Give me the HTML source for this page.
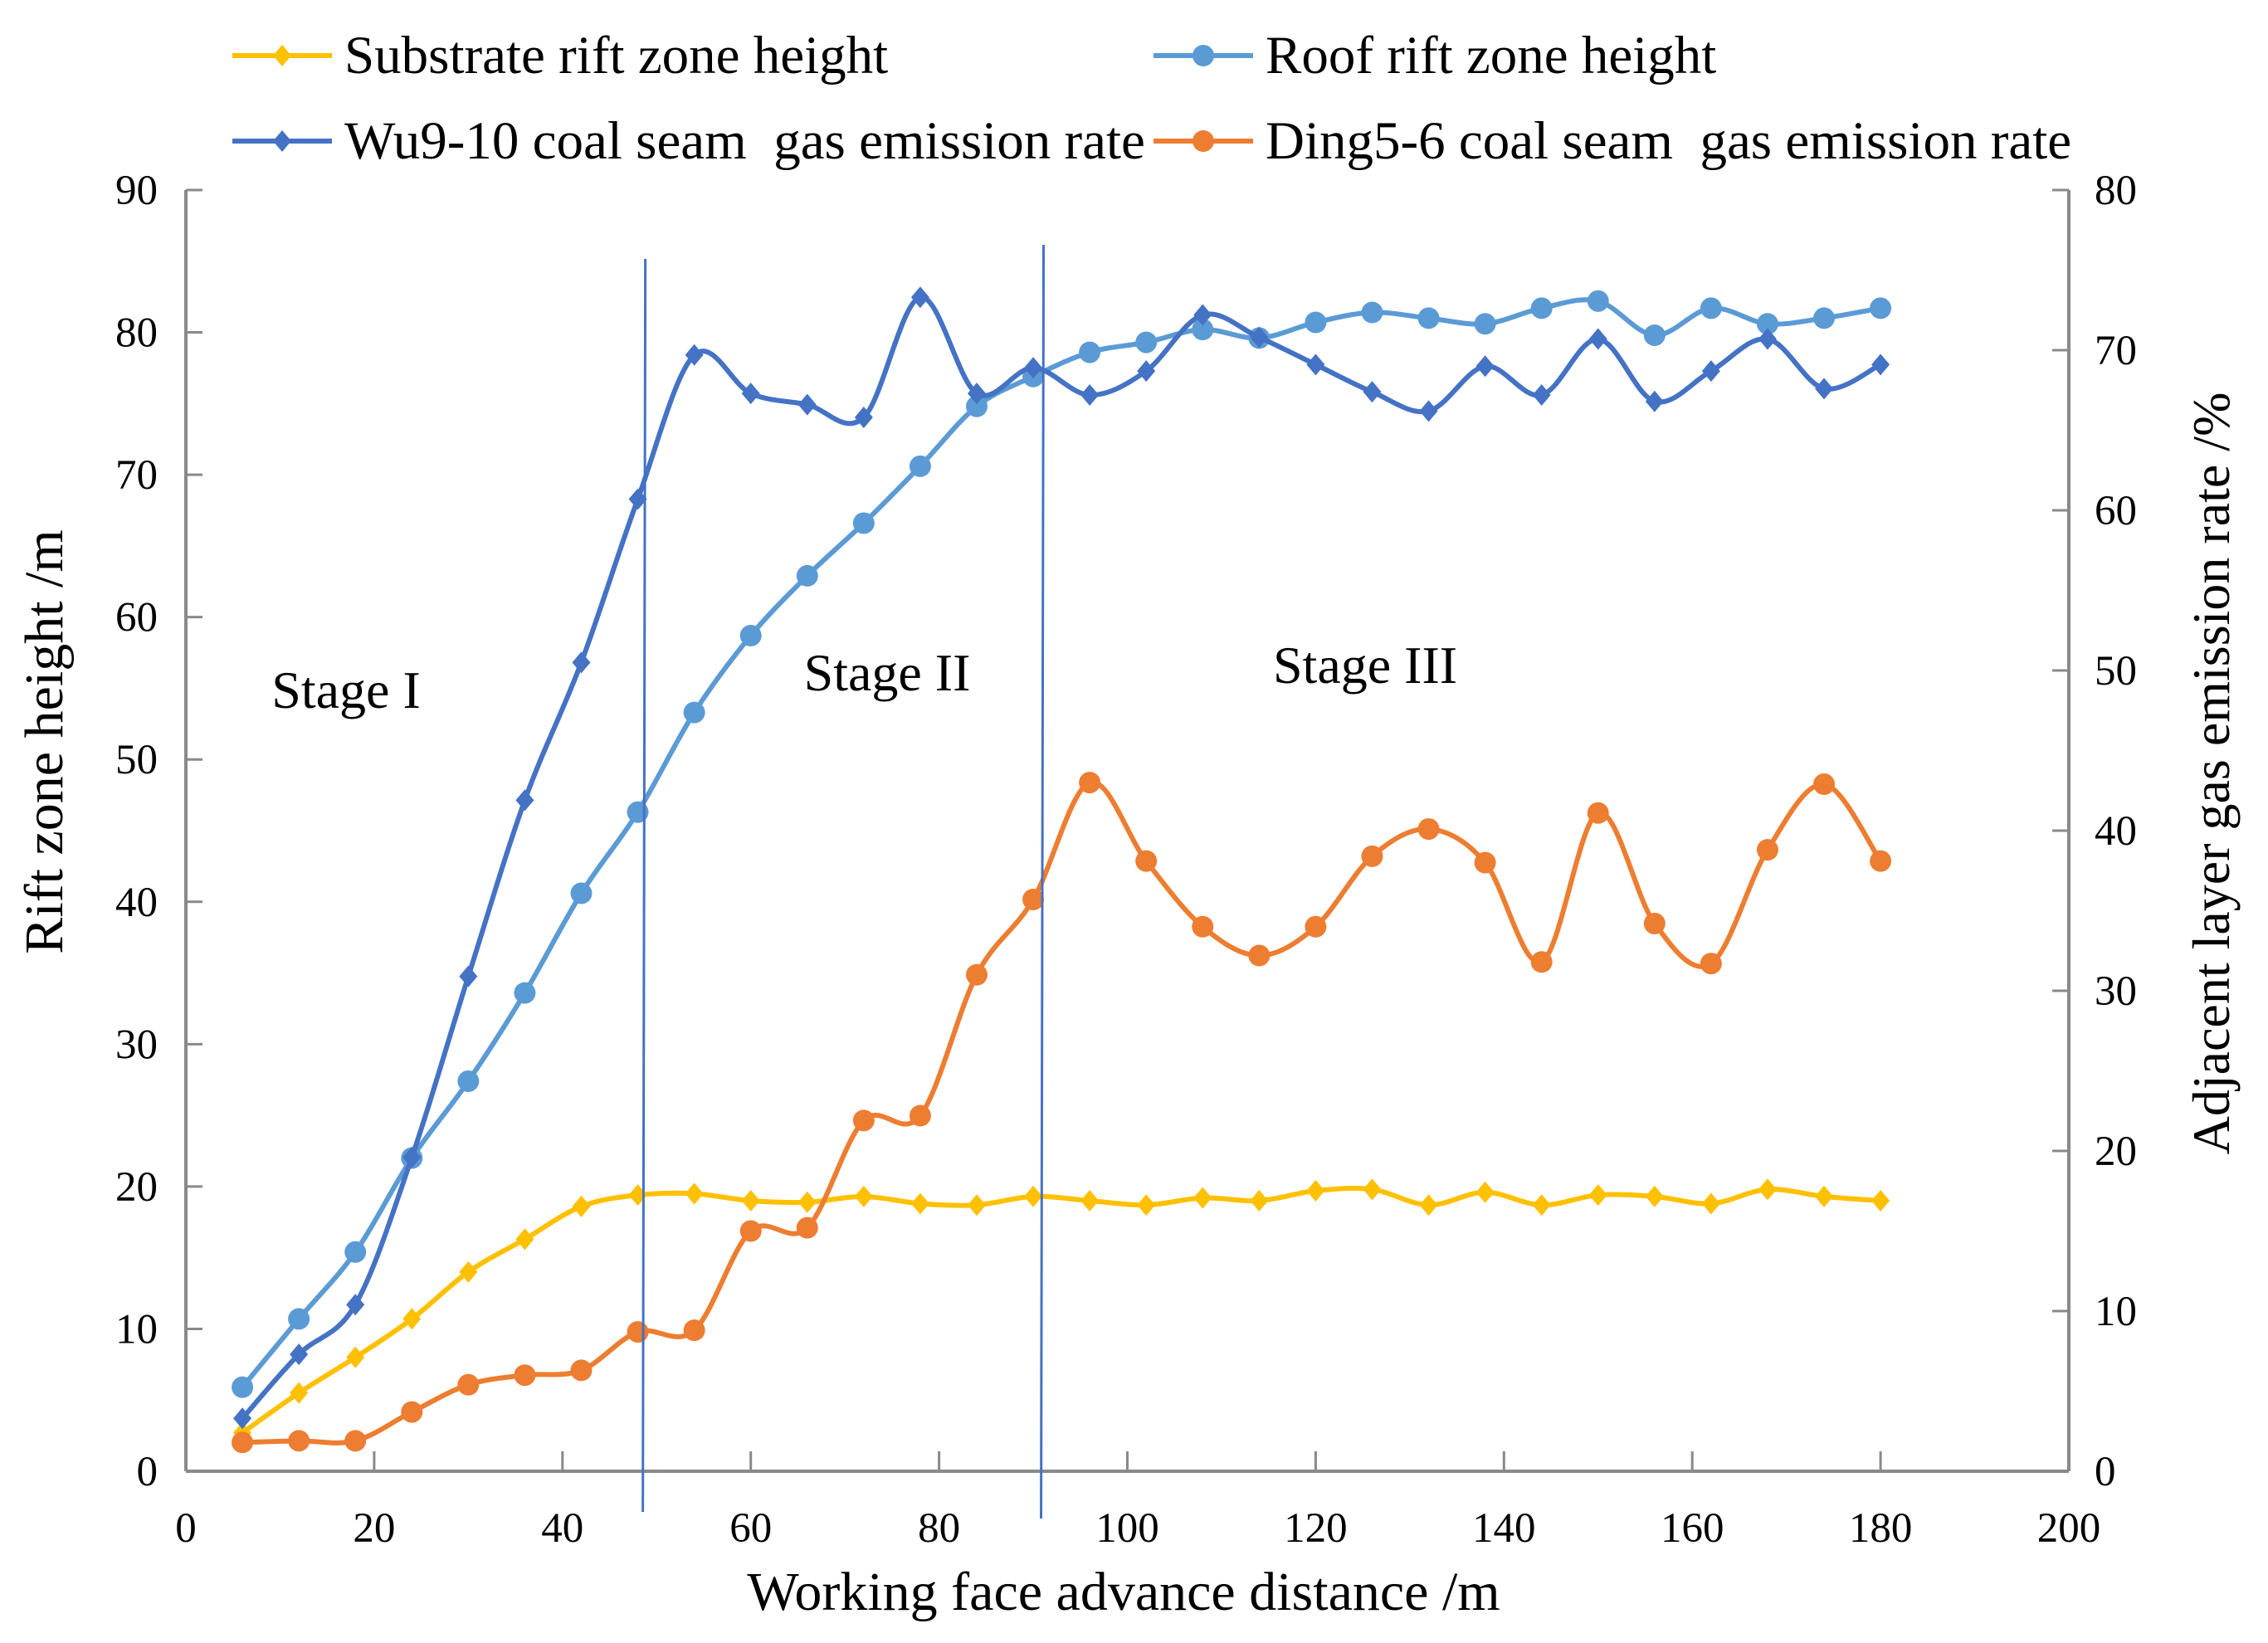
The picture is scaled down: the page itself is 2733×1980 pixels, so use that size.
<!DOCTYPE html>
<html><head><meta charset="utf-8">
<style>
html,body{margin:0;padding:0;background:#fff;}
svg{display:block;font-family:"Liberation Serif",serif;}
</style></head>
<body>
<svg id="chart" width="2733" height="1980" viewBox="0 0 2733 1980" xmlns="http://www.w3.org/2000/svg"></svg>
<script>
const xValues = [6,12,18,24,30,36,42,48,54,60,66,72,78,84,90,96,102,108,114,120,126,132,138,144,150,156,162,168,174,180];
const substrateHeight = [2.7,5.5,8,10.7,14,16.3,18.6,19.4,19.5,19,18.9,19.3,18.8,18.7,19.3,19,18.7,19.2,19,19.7,19.8,18.7,19.6,18.7,19.4,19.3,18.8,19.8,19.3,19];
const roofHeight = [5.9,10.7,15.4,22,27.4,33.6,40.6,46.3,53.3,58.7,62.9,66.6,70.6,74.8,76.9,78.6,79.3,80.2,79.6,80.7,81.4,81,80.6,81.7,82.2,79.8,81.7,80.6,81,81.7];
const wuEmission = [3.3,7.3,10.4,19.6,30.9,41.9,50.5,60.7,69.7,67.3,66.6,65.8,73.3,67.3,68.9,67.2,68.7,72.2,70.8,69.1,67.4,66.2,69,67.2,70.7,66.8,68.7,70.7,67.6,69.1];
const dingEmission = [1.8,1.9,1.9,3.7,5.4,6,6.3,8.7,8.8,15,15.2,21.9,22.2,31,35.7,43,38.1,34,32.2,34,38.4,40.1,38,31.8,41.1,34.2,31.7,38.8,42.9,38.1];
const xTicks = [0,20,40,60,80,100,120,140,160,180,200];
const leftTicks = [0,10,20,30,40,50,60,70,80,90];
const rightTicks = [0,10,20,30,40,50,60,70,80];
const stageLines = [48.8,91.1];

const NS="http://www.w3.org/2000/svg";
const svg=document.getElementById('chart');
const X0=224,X1=2493,Y0=1773,Y1=229;
const xs=v=>X0+(v/200)*(X1-X0);
const yl=v=>Y0-(v/90)*(Y0-Y1);
const yr=v=>Y0-(v/80)*(Y0-Y1);
function mk(tag,attrs,parent){const e=document.createElementNS(NS,tag);for(const k in attrs)e.setAttribute(k,attrs[k]);(parent||svg).appendChild(e);return e;}
function txt(s,attrs,parent){const e=mk('text',attrs,parent);e.textContent=s;return e;}
const AX='#898989';

let a=mk('line',{x1:X0,y1:Y1,x2:X0,y2:Y0,stroke:AX,'stroke-width':4});


a=mk('line',{x1:X1,y1:Y1,x2:X1,y2:Y0,stroke:AX,'stroke-width':4});


a=mk('line',{x1:X0,y1:Y0,x2:X1,y2:Y0,stroke:AX,'stroke-width':4});



xTicks.forEach(v=>{
  const t=mk('line',{x1:xs(v),y1:Y0,x2:xs(v),y2:Y0-24,stroke:AX,'stroke-width':3});
  
  
  const l=txt(v,{x:xs(v),y:1858,'font-size':51,'text-anchor':'middle'});
  
  
});
leftTicks.forEach(v=>{
  const t=mk('line',{x1:X0,y1:yl(v),x2:X0+20,y2:yl(v),stroke:AX,'stroke-width':3});
  
  
  const l=txt(v,{x:190,y:yl(v)+17,'font-size':51,'text-anchor':'end'});
  
  
});
rightTicks.forEach(v=>{
  const t=mk('line',{x1:X1,y1:yr(v),x2:X1-20,y2:yr(v),stroke:AX,'stroke-width':3});
  
  
  const l=txt(v,{x:2524,y:yr(v)+17,'font-size':51,'text-anchor':'start'});
  
  
});

let t=txt('Working face advance distance /m',{x:1354,y:1940,'font-size':66,'text-anchor':'middle'});


t=txt('Rift zone height /m',{x:0,y:0,'font-size':66,'text-anchor':'middle',transform:'translate(75,894) rotate(-90)'});


t=txt('Adjacent layer gas emission rate /%',{x:0,y:0,'font-size':64,'text-anchor':'middle',transform:'translate(2686,932) rotate(-90)'});



[['Stage I',417,853],['Stage II',1069,832],['Stage III',1645,823]].forEach(s=>{
  const e=txt(s[0],{x:s[1],y:s[2],'font-size':64,'text-anchor':'middle'});
  
  
});

function smooth(pts){
  let d=`M${pts[0][0]},${pts[0][1]}`;
  for(let i=0;i<pts.length-1;i++){
    const p0=pts[i-1]||pts[i],p1=pts[i],p2=pts[i+1],p3=pts[i+2]||p2;
    const c1=[p1[0]+(p2[0]-p0[0])/6,p1[1]+(p2[1]-p0[1])/6];
    const c2=[p2[0]-(p3[0]-p1[0])/6,p2[1]-(p3[1]-p1[1])/6];
    d+=` C${c1[0]},${c1[1]} ${c2[0]},${c2[1]} ${p2[0]},${p2[1]}`;
  }
  return d;
}
function series(vals,yf,color,marker,name){
  const g=mk('g',{});
  
  
  const pts=vals.map((v,i)=>[xs(xValues[i]),yf(v)]);
  const p=mk('path',{d:smooth(pts),fill:'none',stroke:color,'stroke-width':6,'stroke-linejoin':'round'},g);
  
  
  pts.forEach(q=>{
    let m;
    if(marker==='circle') m=mk('circle',{cx:q[0],cy:q[1],r:13,fill:color},g);
    else m=mk('polygon',{points:`${q[0]},${q[1]-13} ${q[0]+11},${q[1]} ${q[0]},${q[1]+13} ${q[0]-11},${q[1]}`,fill:color},g);
    
    
  });
}
series(substrateHeight,yl,'#FFC000','diamond','substrate-series');
series(roofHeight,yl,'#5B9BD5','circle','roof-series');
series(dingEmission,yr,'#ED7D31','circle','ding-series');
series(wuEmission,yr,'#4472C4','diamond','wu-series');

[[stageLines[0],312,1822],[stageLines[1],295,1830]].forEach(s=>{
  const l=mk('line',{x1:xs(s[0]),y1:s[1],x2:xs(s[0])-3,y2:s[2],stroke:'#4472C4','stroke-width':3});
  
  
});

[['Substrate rift zone height','#FFC000','diamond',280,67],
 ['Roof rift zone height','#5B9BD5','circle',1390,67],
 ['Wu9-10 coal seam  gas emission rate','#4472C4','diamond',280,170],
 ['Ding5-6 coal seam  gas emission rate','#ED7D31','circle',1390,170]].forEach(e=>{
  const g=mk('g',{});
  
  
  mk('line',{x1:e[3],y1:e[4],x2:e[3]+120,y2:e[4],stroke:e[1],'stroke-width':6},g);
  const cx=e[3]+60,cy=e[4];
  if(e[2]==='circle') mk('circle',{cx:cx,cy:cy,r:13,fill:e[1]},g);
  else mk('polygon',{points:`${cx},${cy-13} ${cx+11},${cy} ${cx},${cy+13} ${cx-11},${cy}`,fill:e[1]},g);
  txt(e[0],{x:e[3]+135,y:e[4]+21,'font-size':65},g).style.whiteSpace='pre';
});
</script>
</body></html>
